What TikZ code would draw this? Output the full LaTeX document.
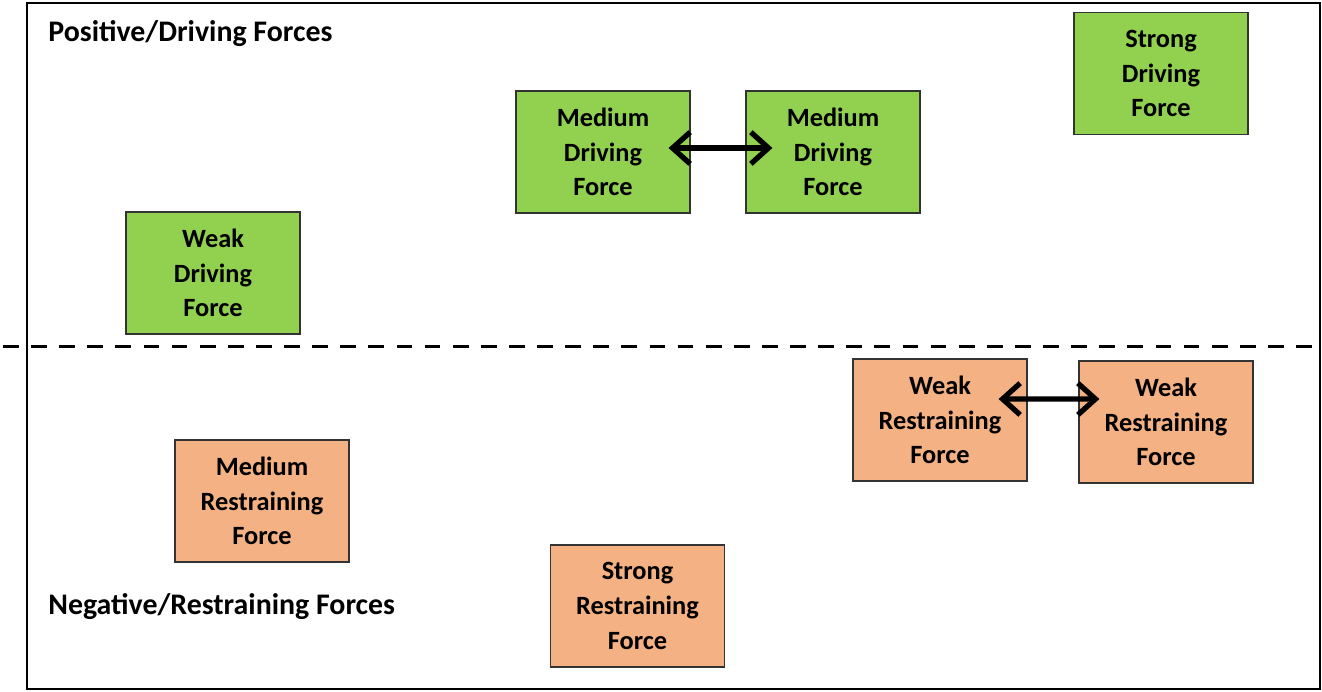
\documentclass[tikz,border=0pt]{standalone}
\usepackage{fontspec}
\setmainfont{Carlito}
\usetikzlibrary{arrows.meta}
\definecolor{drivegreen}{HTML}{92D050}
\definecolor{restrainorange}{HTML}{F4B183}
\begin{document}
\begin{tikzpicture}[x=0.02cm,y=-0.02cm,font=\fontsize{15}{19.8}\selectfont\bfseries,
    force node/.style={draw=black!80,line width=0.7pt,minimum width=3.48cm,minimum height=2.44cm,inner sep=0pt,align=center},
    driving/.style={force node,fill=drivegreen},
    restraining/.style={force node,fill=restrainorange},
    side label/.style={anchor=west,inner sep=0pt,font=\fontsize{17}{20}\selectfont\bfseries},
    twoway/.style={{Straight Barb[length=10pt,width=18pt]}-{Straight Barb[length=10pt,width=18pt]},line width=3pt,line cap=round}]

                    \useasboundingbox (0,0) rectangle (1322,691);
                    \draw[line width=1.2pt] (27,3) rectangle (1320,689);
                    \draw[line width=1.7pt,dash pattern=on 9pt off 7pt] (3,346) -- (1322,346);

                    \node[side label] at (48,34) (pos) {Positive/Driving Forces};
                    \node[side label] at (48,607) (neg) {Negative/Restraining Forces};

                    \node[driving] at (1161,73.5) (sd) {Strong\\Driving\\Force};
                    \node[driving] at (603,152) (mda) {Medium\\Driving\\Force};
                    \node[driving] at (833,152) (mdb) {Medium\\Driving\\Force};
                    \node[driving] at (213,273) (wd) {Weak\\Driving\\Force};
                    \node[restraining] at (940,420) (wra) {Weak\\Restraining\\Force};
                    \node[restraining] at (1166,422) (wrb) {Weak\\Restraining\\Force};
                    \node[restraining] at (262,501) (mr) {Medium\\Restraining\\Force};
                    \node[restraining] at (637.5,606) (sr) {Strong\\Restraining\\Force};

                    \draw[twoway] ([xshift=-0.44cm,yshift=0.08cm]mda.east) -- ([xshift=0.54cm,yshift=0.08cm]mdb.west);
                    \draw[twoway] ([xshift=-0.58cm,yshift=0.42cm]wra.east) -- ([xshift=0.42cm,yshift=0.46cm]wrb.west);
                \end{tikzpicture}
\end{document}
